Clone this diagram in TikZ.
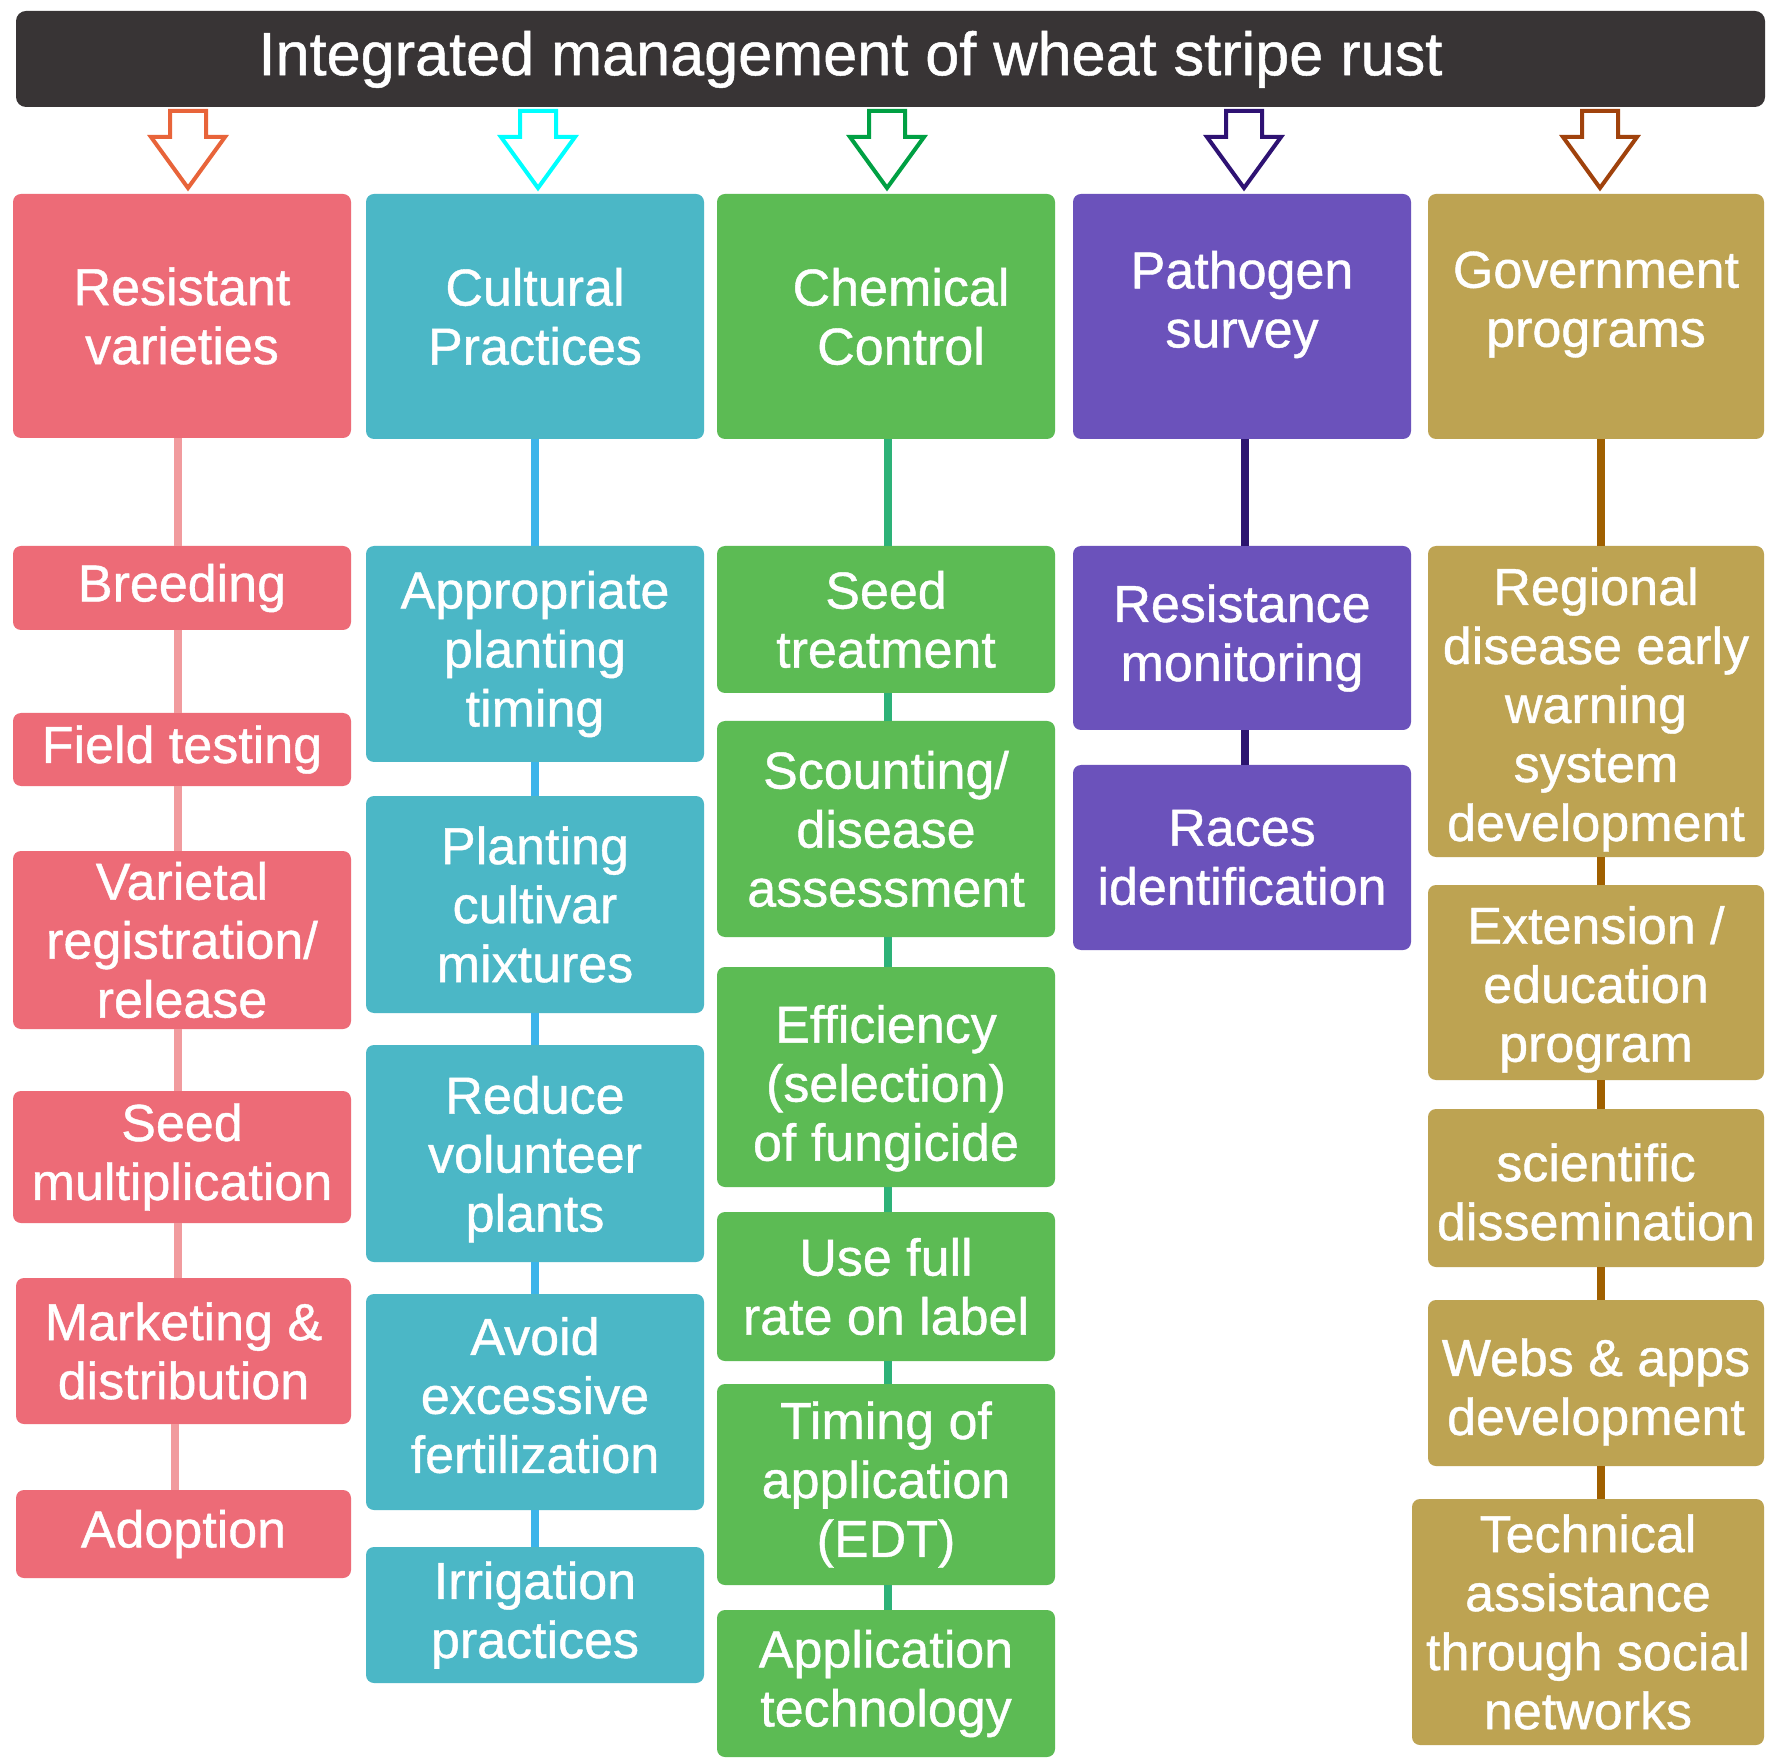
\documentclass[tikz,border=0pt]{standalone}
\usepackage{fontspec}
\setmainfont{Liberation Sans}[FakeBold=0.8]
\usetikzlibrary{calc}
\definecolor{irdark}{RGB}{56,52,53}
\definecolor{rvfill}{RGB}{237,107,119}
\definecolor{cpfill}{RGB}{75,183,198}
\definecolor{ccfill}{RGB}{92,187,84}
\definecolor{psfill}{RGB}{107,82,187}
\definecolor{gpfill}{RGB}{189,163,82}
\definecolor{rvedge}{RGB}{241,155,158}
\definecolor{cpedge}{RGB}{60,180,234}
\definecolor{ccedge}{RGB}{45,178,120}
\definecolor{psedge}{RGB}{44,21,112}
\definecolor{gpedge}{RGB}{160,96,0}
\definecolor{rvarrow}{RGB}{232,100,58}
\definecolor{cparrow}{RGB}{0,255,255}
\definecolor{ccarrow}{RGB}{0,160,67}
\definecolor{psarrow}{RGB}{46,18,115}
\definecolor{gparrow}{RGB}{160,66,12}
\tikzset{
  titlebar/.style={rectangle, rounded corners=5pt, fill=irdark, minimum width=874.5pt, minimum height=48pt, inner sep=0pt},
  titletext/.style={text=white, font=\fontsize{30.6}{34}\selectfont},
  boxtext/.style={text=white, align=center, font=\fontsize{26}{29.5}\selectfont},
  box/.style={rectangle, rounded corners=4pt, boxtext, inner sep=0pt, minimum width=169pt},
  rvbox/.style={box, fill=rvfill},
  cpbox/.style={box, fill=cpfill},
  ccbox/.style={box, fill=ccfill},
  psbox/.style={box, fill=psfill},
  gpbox/.style={box, fill=gpfill},
  link/.style={line width=4pt},
  hollow/.style={line width=2pt, fill=white, line join=miter}
}

\begin{document}
\begin{tikzpicture}[x=0.5pt, y=-0.5pt]
\useasboundingbox[fill=white] (0,0) rectangle (1772,1764);

% title
\node[titlebar, label={[titletext, xshift=-20pt, yshift=-0.2pt]center:Integrated management of wheat stripe rust}] (title) at (890.5,59) {};

% block arrows
\foreach \x/\c in {188/rvarrow, 538/cparrow, 887/ccarrow, 1244/psarrow, 1600/gparrow}
  \draw[hollow, draw=\c] (\x-18,111) -- (\x+18,111) -- (\x+18,137) -- (\x+37,137) -- (\x,188) -- (\x-37,137) -- (\x-18,137) -- cycle;

% resistant varieties
\node[rvbox, minimum height=122pt] (rv) at (182,316) {Resistant\\varieties};
\node[rvbox, minimum height=42pt] (breed) at (182,588) {Breeding};
\node[rvbox, minimum height=36.5pt] (field) at (182,749.5) {Field testing};
\node[rvbox, minimum height=89pt] (varietal) at (182,940) {Varietal\\registration/\\release};
\node[rvbox, minimum height=66pt] (seedm) at (182,1157) {Seed\\multiplication};
\node[rvbox, minimum height=73pt, minimum width=167.5pt] (market) at (183.5,1351) {Marketing \&\\distribution};
\node[rvbox, minimum height=44pt, minimum width=167.5pt] (adopt) at (183.5,1534) {Adoption};

% cultural practices
\node[cpbox, minimum height=122.5pt] (cp) at (535,316.5) {Cultural\\Practices};
\node[cpbox, minimum height=108pt] (appr) at (535,654) {Appropriate\\planting\\timing};
\node[cpbox, minimum height=108.5pt] (mixt) at (535,904.5) {Planting\\cultivar\\mixtures};
\node[cpbox, minimum height=108.5pt, label={[boxtext, yshift=-2.8pt]center:Reduce\\volunteer\\plants}] (volun) at (535,1153.5) {};
\node[cpbox, minimum height=108pt, label={[boxtext, yshift=3.4pt]center:Avoid\\excessive\\fertilization}] (fert) at (535,1402) {};
\node[cpbox, minimum height=68pt] (irrig) at (535,1615) {Irrigation\\practices};

% chemical control
\node[ccbox, minimum height=122.5pt, label={[boxtext, xshift=7.5pt]center:Chemical\\Control}] (cc) at (886,316.5) {};
\node[ccbox, minimum height=73.5pt] (seedt) at (886,619.5) {Seed\\treatment};
\node[ccbox, minimum height=108pt] (scout) at (886,829) {Scounting/\\disease\\assessment};
\node[ccbox, minimum height=110pt, label={[boxtext, yshift=-5.6pt]center:Efficiency\\(selection)\\of fungicide}] (effic) at (886,1077) {};
\node[ccbox, minimum height=74.5pt] (rate) at (886,1286.5) {Use full\\rate on label};
\node[ccbox, minimum height=100.5pt] (timing) at (886,1484.5) {Timing of\\application\\(EDT)};
\node[ccbox, minimum height=73.5pt] (apptech) at (886,1683.5) {Application\\technology};

% pathogen survey
\node[psbox, minimum height=122.5pt, label={[boxtext, yshift=6pt]center:Pathogen\\survey}] (ps) at (1242,316.5) {};
\node[psbox, minimum height=92pt] (resmon) at (1242,638) {Resistance\\monitoring};
\node[psbox, minimum height=92.5pt] (races) at (1242,857.5) {Races\\identification};

% government programs
\node[gpbox, minimum height=122.5pt, minimum width=168pt, label={[boxtext, yshift=6pt]center:Government\\programs}] (gp) at (1596,316.5) {};
\node[gpbox, minimum height=155.5pt, minimum width=168pt, label={[boxtext, yshift=-4pt]center:Regional\\disease early\\warning\\system\\development}] (region) at (1596,701.5) {};
\node[gpbox, minimum height=97.5pt, minimum width=168pt, label={[boxtext, yshift=-3.4pt]center:Extension /\\education\\program}] (extens) at (1596,982.5) {};
\node[gpbox, minimum height=79pt, minimum width=168pt, label={[boxtext, yshift=-2pt]center:scientific\\dissemination}] (scidis) at (1596,1188) {};
\node[gpbox, minimum height=83pt, minimum width=168pt, label={[boxtext, yshift=-4.5pt]center:Webs \& apps\\development}] (webs) at (1596,1383) {};
\node[gpbox, minimum height=123pt, minimum width=176pt] (tech) at (1588,1622) {Technical\\assistance\\through social\\networks};

% links
\foreach \a/\b in {rv/breed, breed/field, field/varietal, varietal/seedm, seedm/market}
  \draw[link, draw=rvedge] ([xshift=-2pt]\a.south) -- ([xshift=-2pt]\a.south |- \b.north);
\draw[link, draw=rvedge] ([xshift=-4.5pt]market.south) -- ([xshift=-4.5pt]adopt.north);
\foreach \a/\b in {cp/appr, appr/mixt, mixt/volun, volun/fert, fert/irrig}
  \draw[link, draw=cpedge] (\a.south) -- (\b.north);
\foreach \a/\b in {cc/seedt, seedt/scout, scout/effic, effic/rate, rate/timing, timing/apptech}
  \draw[link, draw=ccedge] ([xshift=1pt]\a.south) -- ([xshift=1pt]\b.north);
\foreach \a/\b in {ps/resmon, resmon/races}
  \draw[link, draw=psedge] ([xshift=1.5pt]\a.south) -- ([xshift=1.5pt]\b.north);
\foreach \a/\b in {gp/region, region/extens, extens/scidis, scidis/webs}
  \draw[link, draw=gpedge] ([xshift=2.5pt]\a.south) -- ([xshift=2.5pt]\b.north);
\draw[link, draw=gpedge] ([xshift=2.5pt]webs.south) -- ([xshift=2.5pt]webs.south |- tech.north);
\end{tikzpicture}
\end{document}
